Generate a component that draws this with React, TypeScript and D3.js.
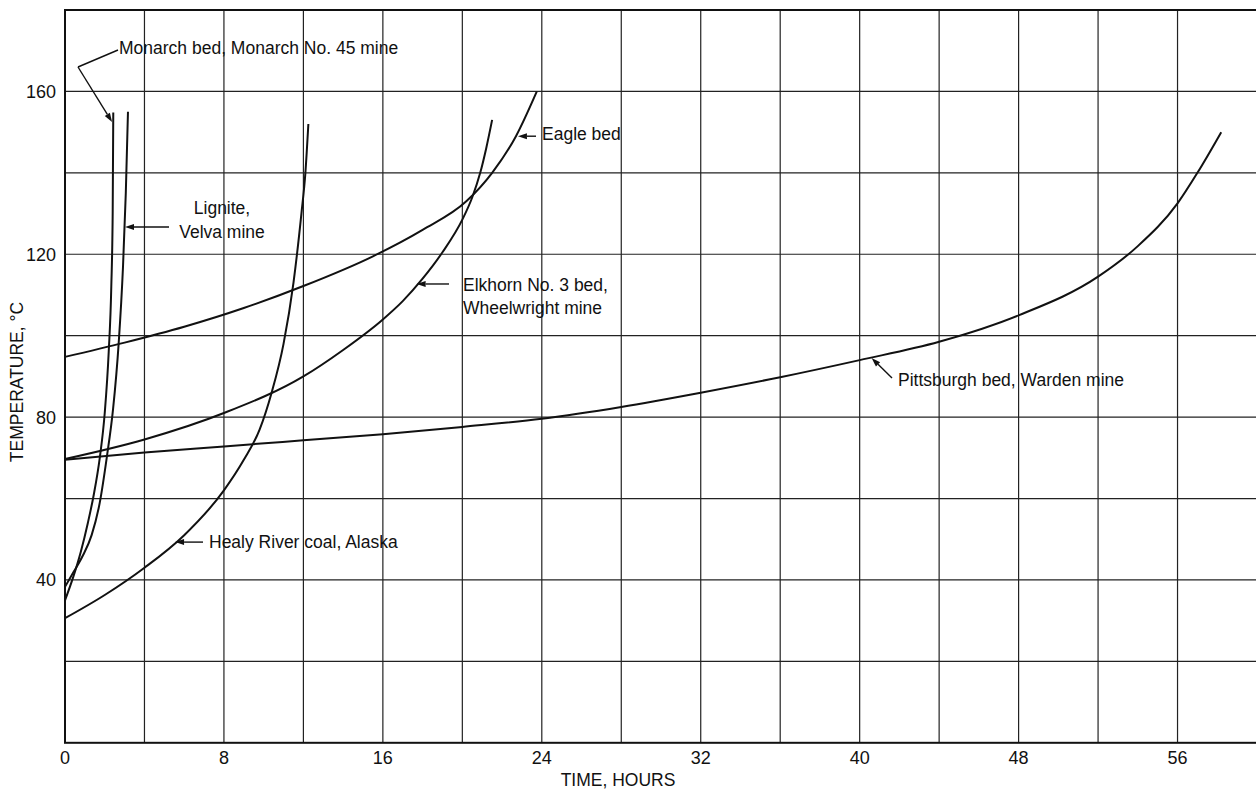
import React from 'react'
import * as d3 from 'd3'

// readings from the chart: [hours, °C]
const monarch: [number, number][] = [
  [0, 35], [0.4, 40.5], [0.8, 47], [1.15, 54], [1.45, 61], [1.75, 70], [2.0, 81],
  [2.2, 96], [2.33, 112], [2.4, 130], [2.43, 154.8],
]
const lignite: [number, number][] = [
  [0, 38.3], [0.4, 41.7], [0.9, 46], [1.34, 51], [1.75, 59], [2.1, 70], [2.42, 82],
  [2.7, 98], [2.92, 117], [3.06, 135], [3.17, 155],
]
const healy: [number, number][] = [
  [0, 30.6], [2, 36.3], [4, 43], [6, 51], [8, 62], [9, 69.5], [9.8, 77],
  [10.4, 86], [11, 98], [11.5, 113], [11.9, 130], [12.1, 140], [12.25, 152],
]
const elkhorn: [number, number][] = [
  [0, 69.7], [4, 74.5], [8, 81], [12, 90], [14, 96.5], [16, 104], [17, 108.5],
  [18, 114], [19, 120.5], [20, 128.5], [20.5, 134], [20.9, 140], [21.2, 146], [21.5, 153],
]
const eagle: [number, number][] = [
  [0, 94.8], [3, 98.3], [6, 102.2], [9, 106.8], [12, 112.2], [15.5, 119.5], [18, 126],
  [20.2, 133], [21.5, 140], [22.7, 149], [23.75, 160],
]
const pittsburgh: [number, number][] = [
  [0, 69.5], [4, 71.3], [8, 72.8], [12, 74.3], [16, 75.8], [20, 77.6], [24, 79.6],
  [28, 82.5], [32, 86], [36, 89.8], [40, 94], [44, 98.5], [48, 105], [52, 114.5],
  [54, 122], [56, 132.5], [57, 140], [58.2, 150],
]
const series = [monarch, lignite, healy, elkhorn, eagle, pittsburgh]

const xTicks = [0, 8, 16, 24, 32, 40, 48, 56]
const yTicks = [40, 80, 120, 160]
const xGrid = [4, 8, 12, 16, 20, 24, 28, 32, 36, 40, 44, 48, 52, 56]
const yGrid = [20, 40, 60, 80, 100, 120, 140, 160]

const FONT = '"Liberation Sans", Arial, sans-serif'

function Arrow({ tip, from }: { tip: [number, number]; from: [number, number] }) {
  const [tx, ty] = tip
  const dx = from[0] - tx, dy = from[1] - ty
  const len = Math.hypot(dx, dy) || 1
  const ux = dx / len, uy = dy / len
  const bx = tx + ux * 9, by = ty + uy * 9
  const px = -uy * 3, py = ux * 3
  return (
    <g>
      <line x1={bx} y1={by} x2={from[0]} y2={from[1]} stroke="#111" strokeWidth={1.4} />
      <path d={`M${tx},${ty}L${bx + px},${by + py}L${bx - px},${by - py}Z`} fill="#111" />
    </g>
  )
}

export default function App() {
  const x = d3.scaleLinear().domain([0, 60]).range([65, 1257])
  const y = d3.scaleLinear().domain([0, 180]).range([742.8, 10])
  const line = d3.line<[number, number]>()
    .x(d => x(d[0])).y(d => y(d[1]))
    .curve(d3.curveMonotoneX)

  const txt = { fontFamily: FONT, fontSize: 17.5, fill: '#111' }
  const P = (h: number, t: number): [number, number] => [x(h), y(t)]

  return (
    <svg width={1256} height={790} style={{ position: 'absolute', left: 0, top: 0, background: '#fff' }}>
      <rect width={1256} height={790} fill="#fff" />
      {/* grid */}
      {xGrid.map(v => (
        <line key={'gx' + v} x1={x(v)} x2={x(v)} y1={y(180)} y2={y(0)} stroke="#222" strokeWidth={1.2} />
      ))}
      {yGrid.map(v => (
        <line key={'gy' + v} x1={x(0)} x2={x(60)} y1={y(v)} y2={y(v)} stroke="#222" strokeWidth={1.2} />
      ))}
      {/* frame */}
      <rect x={x(0)} y={y(180)} width={x(60) - x(0)} height={y(0) - y(180)} fill="none" stroke="#111" strokeWidth={2} />

      {/* curves */}
      {series.map((s, i) => (
        <path key={i} d={line(s) || ''} fill="none" stroke="#111" strokeWidth={2} />
      ))}

      {/* tick labels */}
      {xTicks.map(v => (
        <text key={'tx' + v} x={x(v)} y={764} textAnchor="middle" style={{ ...txt, fontSize: 18 }}>{v}</text>
      ))}
      {yTicks.map(v => (
        <text key={'ty' + v} x={56} y={y(v) + 6.5} textAnchor="end" style={{ ...txt, fontSize: 18 }}>{v}</text>
      ))}
      <text x={618} y={786} textAnchor="middle" style={txt}>TIME, HOURS</text>
      <text transform="translate(23,382) rotate(-90)" textAnchor="middle" style={txt}>TEMPERATURE, °C</text>

      {/* annotations */}
      <polyline points={`118,50 78,67`} fill="none" stroke="#111" strokeWidth={1.4} />
      <Arrow tip={P(2.37, 152.5)} from={[78, 67]} />
      <text x={119} y={54} style={txt}>Monarch bed, Monarch No. 45 mine</text>

      <Arrow tip={P(3.02, 126.7)} from={[169, P(3.02, 126.7)[1]]} />
      <text x={222} y={214} textAnchor="middle" style={txt}>Lignite,</text>
      <text x={222} y={238} textAnchor="middle" style={txt}>Velva mine</text>

      <Arrow tip={P(5.54, 49.3)} from={[203, P(5.54, 49.3)[1]]} />
      <text x={209} y={548} style={txt}>Healy River coal, Alaska</text>

      <Arrow tip={P(17.7, 112.7)} from={[449, P(17.7, 112.7)[1]]} />
      <text x={463} y={291} style={txt}>Elkhorn No. 3 bed,</text>
      <text x={463} y={314} style={txt}>Wheelwright mine</text>

      <Arrow tip={P(22.8, 149)} from={[536, P(22.8, 149)[1]]} />
      <text x={542} y={140} style={txt}>Eagle bed</text>

      <Arrow tip={P(40.6, 94.5)} from={[892, 378]} />
      <text x={898} y={386} style={txt}>Pittsburgh bed, Warden mine</text>
    </svg>
  )
}
